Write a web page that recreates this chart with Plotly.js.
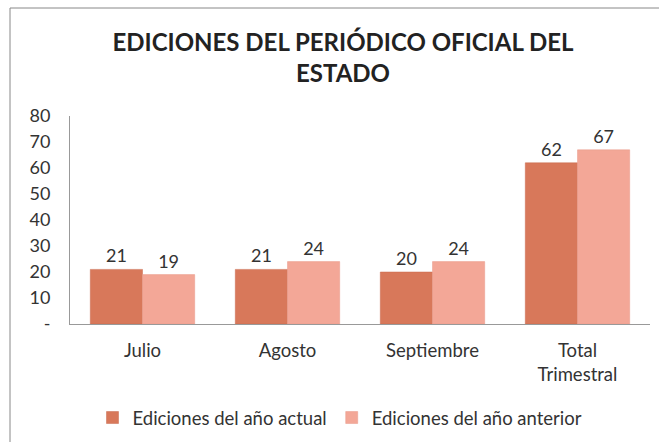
<!DOCTYPE html>
<html><head><meta charset="utf-8">
<script src="https://cdn.plot.ly/plotly-3.0.1.min.js"></script>
<style>body{margin:0;background:#fff}#c{width:659px;height:442px}</style>
</head><body><div id="c"></div>
<script>
var categories = ['Julio', 'Agosto', 'Septiembre', 'Total<br>Trimestral'];
var actual = [21, 21, 20, 62];
var anterior = [19, 24, 24, 67];
var seriesNames = ['Ediciones del año actual', 'Ediciones del año anterior'];
var yTickVals = [0, 10, 20, 30, 40, 50, 60, 70, 80];
var yTickText = ['-', '10', '20', '30', '40', '50', '60', '70', '80'];

var FONT = 'Lato, "Open Sans", sans-serif';
var traces = [
  {type:'bar', name:seriesNames[0], x:categories, y:actual, text:actual.map(String),
   textposition:'outside', cliponaxis:false,
   marker:{color:'#D8785A', line:{color:'#C96A4E', width:0.5}},
   textfont:{family:FONT, size:18, color:'#333'}},
  {type:'bar', name:seriesNames[1], x:categories, y:anterior, text:anterior.map(String),
   textposition:'outside', cliponaxis:false,
   marker:{color:'#F3A797', line:{color:'#E99A8A', width:0.5}},
   textfont:{family:FONT, size:18, color:'#333'}}
];
var layout = {
  width:659, height:442,
  margin:{l:70, r:9, t:116, b:118},
  paper_bgcolor:'#ffffff', plot_bgcolor:'#ffffff',
  font:{family:FONT, color:'#333', size:18},
  title:{text:'<b>EDICIONES DEL PERIÓDICO OFICIAL DEL<br>ESTADO</b>',
         font:{family:FONT, size:24, color:'#222'},
         x:343/659, xanchor:'center', xref:'container',
         y:1-51/442, yanchor:'top', yref:'container'},
  barmode:'group', bargap:0.28, bargroupgap:0,
  showlegend:true,
  legend:{orientation:'h', xref:'container', yref:'container', x:340/659, xanchor:'center',
          y:1-418/442, yanchor:'middle', font:{family:FONT, size:18.5, color:'#333'},
          itemwidth:30, traceorder:'normal'},
  xaxis:{type:'category', showline:true, linecolor:'#999', linewidth:1, showgrid:false,
         ticks:'', tickfont:{family:FONT, size:18.5, color:'#333'}, ticklabelstandoff:10},
  yaxis:{range:[0,80], tickvals:yTickVals, ticktext:yTickText, showgrid:false, zeroline:false,
         showline:true, linecolor:'#999', linewidth:1, ticks:'',
         tickfont:{family:FONT, size:18, color:'#333'}, ticklabelstandoff:15},
  shapes:[
    {type:'line', xref:'paper', yref:'paper', x0:-(60/580), x1:-(60/580), y0:-(118/208), y1:1+(108/208), line:{color:'#888', width:1}},
    {type:'line', xref:'paper', yref:'paper', x0:-(60/580), x1:1.02, y0:1+(108/208), y1:1+(108/208), line:{color:'#888', width:1}}
  ]
};
Plotly.newPlot('c', traces, layout, {displayModeBar:false});
</script></body></html>
